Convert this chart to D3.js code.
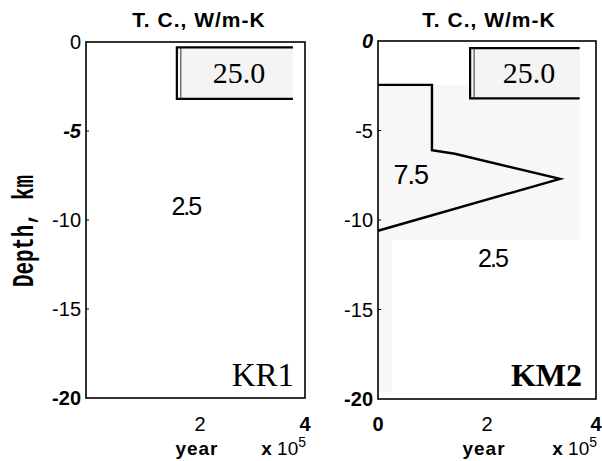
<!DOCTYPE html>
<html>
<head>
<meta charset="UTF-8">
<script src="https://d3js.org/d3.v7.min.js"></script>
<style>
  body { margin: 0; background: #fff; }
  text { font-family: Arial, "Liberation Sans", sans-serif; }
</style>
</head>
<body>
<div id="chart"></div>
<script>
// depth ticks (km) and time ticks (x 10^5 years)
const depthTicks = [0, -5, -10, -15, -20];
const yearTicksKR1 = [2, 4];
const yearTicksKM2 = [0, 2, 4];

// conductivity 25.0 block: [t0, t1, depthTop, depthBottom]
const blockKR1 = [1.56, 3.77, -0.3, -3.2];
const blockKM2 = [1.69, 3.70, -0.4, -3.2];

// KM2 boundary of the 7.5 W/m-K zone: [time, depth]
const zoneKM2 = [[0, -2.45], [0.99, -2.45], [0.99, -6.1], [1.41, -6.3], [3.34, -7.7], [0, -10.6]];

// conductivity labels: [time, depth, text]
const labelsKR1 = [[1.73, -9.2, "2.5"]];
const labelsKM2 = [[0.6, -7.5, "7.5"], [2.1, -12.1, "2.5"]];

const width = 602, height = 461;
const svg = d3.select("#chart").append("svg")
    .attr("width", width)
    .attr("height", height);

function drawPanel(p) {
    const x = d3.scaleLinear().domain(p.xDomain).range([p.left, p.right]);
    const y = d3.scaleLinear().domain([0, -20]).range([p.top, p.bottom]);
    const g = svg.append("g");

    // faint shaded zone
    if (p.zone) {
        g.append("rect")
            .attr("x", x(0)).attr("y", y(-2.45))
            .attr("width", x(3.7) - x(0)).attr("height", y(-11.1) - y(-2.45))
            .attr("fill", "#f7f7f7");
        g.append("rect")
            .attr("x", x(0)).attr("y", y(-11.1))
            .attr("width", x(0.25) - x(0)).attr("height", y(-19.6) - y(-11.1))
            .attr("fill", "#f7f7f7");
        g.append("path")
            .datum(p.zone)
            .attr("d", d3.line().x(d => x(d[0])).y(d => y(d[1])))
            .attr("fill", "none")
            .attr("stroke", "#000")
            .attr("stroke-width", 2.4);
    }

    // 25.0 block
    const b = p.block;
    g.append("rect")
        .attr("x", x(b[0])).attr("y", y(b[2]))
        .attr("width", x(b[1]) - x(b[0])).attr("height", y(b[3]) - y(b[2]))
        .attr("fill", "#f4f4f4");
    g.append("path")
        .attr("d", `M${x(b[1])},${y(b[2])}H${x(b[0])}V${y(b[3])}H${x(b[1])}`)
        .attr("fill", "none").attr("stroke", "#000").attr("stroke-width", 2.2);
    g.append("line")
        .attr("x1", x(b[0]) + 4).attr("x2", x(b[0]) + 4)
        .attr("y1", y(b[2])).attr("y2", y(b[3]))
        .attr("stroke", "#333").attr("stroke-width", 1);
    g.append("text")
        .attr("x", (x(b[0]) + x(b[1])) / 2 + 4)
        .attr("y", (y(b[2]) + y(b[3])) / 2 + 10)
        .attr("text-anchor", "middle")
        .style("font-family", "'Liberation Serif', 'Times New Roman', serif")
        .style("font-size", "30px")
        .text("25.0");

    // frame
    g.append("rect")
        .attr("x", p.left).attr("y", p.top)
        .attr("width", p.right - p.left).attr("height", p.bottom - p.top)
        .attr("fill", "none").attr("stroke", "#000").attr("stroke-width", 1.6);

    // conductivity labels
    g.selectAll("text.val")
        .data(p.labels)
        .enter().append("text")
        .attr("class", "val")
        .attr("x", d => x(d[0])).attr("y", d => y(d[1]) + 9)
        .attr("text-anchor", "middle")
        .style("font-size", d => d[2] === "7.5" ? "27px" : "25px")
        .style("letter-spacing", d => d[2] === "7.5" ? "-1px" : "-2px")
        .text(d => d[2]);

    // y ticks
    g.selectAll("text.ytick")
        .data(depthTicks)
        .enter().append("text")
        .attr("class", "ytick")
        .attr("x", p.left - 5).attr("y", d => y(d) + 7)
        .attr("text-anchor", "end")
        .style("font-size", "20px")
        .style("font-weight", (d, i) => p.yBold[i] ? "bold" : "normal")
        .style("font-style", (d, i) => p.yItalic[i] ? "italic" : "normal")
        .text(d => d);
    g.selectAll("line.ytick")
        .data(depthTicks.slice(1, 4))
        .enter().append("line")
        .attr("x1", p.left).attr("x2", p.left + 3)
        .attr("y1", d => y(d)).attr("y2", d => y(d))
        .attr("stroke", "#000");

    // x ticks
    g.selectAll("text.xtick")
        .data(p.xTicks)
        .enter().append("text")
        .attr("class", "xtick")
        .attr("x", d => x(d)).attr("y", 431)
        .attr("text-anchor", "middle")
        .style("font-size", "20px")
        .style("font-weight", d => d === 4 || d === 0 ? "bold" : "normal")
        .text(d => d);

    // axis captions
    g.append("text")
        .attr("x", x(2) - 3).attr("y", 455)
        .attr("text-anchor", "middle")
        .style("font-size", "19px").style("font-weight", "bold")
        .style("letter-spacing", "1px")
        .text("year");
    const sci = g.append("text")
        .attr("x", x(4) + 1).attr("y", 455)
        .attr("text-anchor", "end")
        .style("font-size", "19px");
    sci.append("tspan").style("font-weight", "bold").text("x ");
    sci.append("tspan").text("10");
    sci.append("tspan").attr("dy", -8).style("font-size", "14px").text("5");

    g.append("text")
        .attr("x", p.titleX).attr("y", 27)
        .attr("text-anchor", "middle")
        .style("font-size", "21px").style("font-weight", "bold")
        .style("letter-spacing", "1px")
        .text("T. C., W/m-K");

    g.append("text")
        .attr("x", p.nameX).attr("y", 386)
        .attr("text-anchor", "end")
        .style("font-family", "'Liberation Serif', 'Times New Roman', serif")
        .style("font-size", p.nameSize + "px")
        .style("font-weight", p.nameBold ? "bold" : "normal")
        .text(p.name);
}

drawPanel({
    left: 86, right: 305, top: 42, bottom: 398,
    xDomain: [-0.17, 4], xTicks: yearTicksKR1,
    block: blockKR1, labels: labelsKR1, zone: null,
    yBold: [false, true, false, false, true], yItalic: [false, true, false, false, false],
    titleX: 199, name: "KR1", nameX: 294, nameSize: 33, nameBold: false
});

drawPanel({
    left: 378, right: 596, top: 41, bottom: 399,
    xDomain: [0, 4], xTicks: yearTicksKM2,
    block: blockKM2, labels: labelsKM2, zone: zoneKM2,
    yBold: [true, false, false, false, true], yItalic: [true, false, false, false, false],
    titleX: 489, name: "KM2", nameX: 582, nameSize: 32, nameBold: true
});

svg.append("text")
    .attr("transform", "translate(33,231) rotate(-90)")
    .attr("text-anchor", "middle")
    .attr("textLength", 112)
    .attr("lengthAdjust", "spacingAndGlyphs")
    .style("font-family", "'Liberation Mono', 'DejaVu Sans Mono', monospace")
    .style("font-size", "30px").style("font-weight", "bold")
    .text("Depth, km");
</script>
</body>
</html>
